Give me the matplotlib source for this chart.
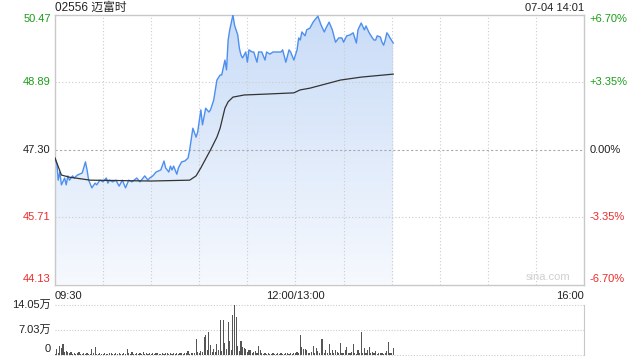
import matplotlib
matplotlib.use("Agg")
import matplotlib.pyplot as plt
import numpy as np
from matplotlib.colors import LinearSegmentedColormap

plt.rcParams['font.family'] = ['Liberation Sans', 'Noto Sans CJK SC', 'DejaVu Sans']

title = "02556 迈富时"
stamp = "07-04 14:01"
prev_close = 47.30
y_ticks = [44.13, 45.71, 47.30, 48.89, 50.47]
pct_labels = ["-6.70%", "-3.35%", "0.00%", "+3.35%", "+6.70%"]
x_labels = ["09:30", "12:00/13:00", "16:00"]
x_label_pos = [0, 150, 330]
vol_ticks = [0, 7.03, 14.05]
vol_labels = ["0", "7.03万", "14.05万"]

# minutes from open (lunch break removed)
price_t = [0, 1.25, 2, 3, 4, 6, 7, 8, 9, 11, 12, 14, 17, 19, 20, 21, 23, 25, 26, 28,
           30, 32, 33, 34, 36, 38, 40, 42, 44, 46, 48, 51, 53, 56, 58, 59, 61, 63, 66, 68,
           69, 71, 72, 73, 74, 76, 77, 79, 81, 83, 84, 86, 88, 89, 91, 92, 94, 96, 97, 99,
           101, 103, 104, 106, 107, 108, 109, 111, 112, 114, 115, 116, 117, 119, 120, 121, 123, 124, 126, 127,
           129, 131, 132, 134, 136, 138, 141, 142, 144, 146, 147, 149, 151, 152, 153, 154, 156, 157, 159, 161,
           162, 164, 166, 168, 169, 171, 173, 175, 177, 179, 180, 182, 184, 186, 188, 189, 191, 193, 194, 196,
           198, 199, 200, 201, 203, 204, 205, 206, 207, 208, 209, 211]
price = [47.10, 46.94, 46.58, 46.77, 46.47, 46.63, 46.47, 46.68, 46.58, 46.68, 46.63, 46.70, 46.75, 47.01, 46.82, 46.58, 46.40, 46.51, 46.47, 46.58,
         46.54, 46.63, 46.51, 46.58, 46.54, 46.58, 46.44, 46.58, 46.40, 46.58, 46.54, 46.63, 46.54, 46.68, 46.58, 46.63, 46.68, 46.77, 46.82, 47.03,
         46.87, 46.77, 46.91, 46.82, 46.91, 46.72, 46.87, 47.01, 47.03, 47.10, 47.29, 47.80, 47.59, 47.71, 48.23, 47.88, 48.27, 48.18, 48.23, 48.46,
         48.93, 49.05, 49.05, 49.40, 49.17, 49.87, 50.11, 50.46, 50.22, 49.99, 49.68, 49.52, 49.45, 49.59, 49.35, 49.64, 49.59, 49.59, 49.35, 49.59,
         49.59, 49.40, 49.59, 49.54, 49.59, 49.59, 49.59, 49.64, 49.35, 49.64, 49.59, 49.40, 49.64, 49.92, 49.87, 50.06, 49.97, 50.11, 50.15, 50.29,
         50.34, 50.43, 50.22, 50.06, 50.15, 50.29, 50.11, 49.82, 49.92, 49.92, 49.82, 49.97, 49.99, 50.04, 49.80, 50.11, 50.27, 50.11, 50.20, 50.04,
         49.92, 49.87, 49.87, 49.97, 49.94, 49.82, 49.75, 49.87, 50.04, 49.99, 49.92, 49.80]

avg_t = [0, 4, 9, 22, 60, 84, 88, 91, 94, 97, 101, 103, 106, 108, 111, 118, 131, 149, 153, 159, 166, 178, 191, 211]
avg = [47.10, 46.70, 46.65, 46.58, 46.56, 46.58, 46.68, 46.87, 47.08, 47.29, 47.59, 47.80, 48.27, 48.42, 48.53,
       48.58, 48.60, 48.63, 48.70, 48.74, 48.81, 48.93, 49.00, 49.07]

volume = [0.3, 1.5, 0.6, 2.5, 2.0, 3.0, 0.7, 1.1, 0.9, 0.5,
          0.8, 0.3, 0.4, 0.2, 0.5, 0.8, 0.3, 0.2, 0.4, 0.3,
          0.5, 0.2, 0.3, 1.6, 0.4, 2.3, 0.3, 0.2, 0.4, 0.3,
          0.2, 0.5, 0.3, 0.2, 0.4, 0.6, 0.3, 0.2, 0.5, 0.3,
          0.4, 0.2, 0.3, 0.5, 0.3, 1.6, 0.4, 0.3, 0.8, 0.2,
          0.3, 0.5, 0.2, 0.4, 0.3, 0.8, 0.3, 0.5, 0.2, 0.4,
          0.3, 0.6, 0.2, 0.4, 0.5, 0.3, 0.2, 0.4, 0.3, 0.6,
          0.4, 0.3, 0.5, 0.2, 0.4, 0.3, 0.5, 0.2, 0.4, 0.6,
          0.3, 0.5, 0.4, 1.0, 0.3, 0.5, 0.4, 0.6, 4.4, 0.8,
          0.6, 1.0, 0.7, 5.1, 5.6, 1.3, 6.4, 2.7, 0.8, 1.5,
          0.9, 3.0, 1.2, 9.8, 1.0, 9.8, 3.2, 1.5, 9.2, 3.8,
          1.2, 11.2, 14.05, 10.7, 2.5, 1.0, 3.8, 2.2, 2.0, 1.5,
          0.8, 1.3, 1.3, 0.6, 0.9, 1.1, 0.5, 2.5, 1.3, 0.4,
          0.3, 0.5, 0.2, 0.4, 0.3, 0.2, 0.5, 0.3, 0.2, 0.4,
          0.3, 0.5, 0.2, 0.3, 0.6, 0.4, 0.3, 0.5, 0.2, 0.6,
          0.4, 0.8, 0.6, 5.6, 2.3, 1.5, 1.5, 1.2, 0.5, 0.6,
          0.8, 2.5, 0.5, 2.0, 1.0, 0.6, 4.5, 4.5, 0.5, 1.2,
          0.4, 2.9, 0.6, 1.3, 0.5, 1.3, 0.8, 0.4, 3.4, 0.5,
          0.4, 1.3, 2.3, 0.5, 0.4, 0.9, 3.0, 0.5, 0.3, 1.3,
          0.4, 6.5, 0.6, 2.0, 0.4, 1.3, 2.3, 0.5, 0.9, 0.4,
          1.0, 0.3, 0.5, 0.4, 0.6, 0.3, 0.4, 1.0, 3.5, 0.5,
          0.4, 2.0]

W, H = 640, 360
fig = plt.figure(figsize=(6.4, 3.6), dpi=100)
ax = fig.add_axes([55 / W, (H - 284.5) / H, 529 / W, 270 / H])
axv = fig.add_axes([55 / W, (H - 354.7) / H, 529 / W, 49.7 / H])

green = "#1a9e1a"
red = "#ee2a2a"
grid_c = "#cccccc"
spine_c = "#c8c8c8"

ax.set_xlim(0, 330)
ax.set_ylim(y_ticks[0], y_ticks[-1])

# gradient fill under price
poly = ax.fill_between(price_t, price, y_ticks[0], color="none", lw=0)
cmap = LinearSegmentedColormap.from_list("g", ["#f6f9fe", "#c9dcf7"])
grad = np.linspace(0, 1, 256).reshape(-1, 1)
im = ax.imshow(grad, cmap=cmap, aspect="auto", origin="lower",
               extent=[0, price_t[-1], y_ticks[0], y_ticks[-1]], zorder=1)
path = poly.get_paths()[0]
im.set_clip_path(path, transform=ax.transData)

ax.plot(price_t, price, color="#4d8ff0", lw=1.0, zorder=3)
ax.plot(avg_t, avg, color="#333333", lw=0.9, zorder=3)

# grid
for xv in np.arange(30, 330, 30):
    ax.axvline(xv, color=grid_c, lw=0.8, ls=(0, (1, 2)), zorder=2)
for yv in y_ticks[1:-1]:
    if yv == prev_close:
        ax.axhline(yv, color="#aaaaaa", lw=0.8, ls=(0, (2, 2)), zorder=2)
    else:
        ax.axhline(yv, color=grid_c, lw=0.8, ls=(0, (1, 2)), zorder=2)

for s in ax.spines.values():
    s.set_color(spine_c)
    s.set_linewidth(1.0)

ax.set_xticks([])
ax.set_yticks([])

tick_colors = [red, red, "#222222", green, green]
trans_l = ax.get_yaxis_transform()
for i, (yv, c) in enumerate(zip(y_ticks, tick_colors)):
    va = "center"
    if i == 0:
        va = "bottom"
    if i == len(y_ticks) - 1:
        va = "top"
    ax.text(-0.008, yv, f"{yv:.2f}", transform=trans_l, ha="right", va=va,
            color=c, fontsize=8)
    ax.text(1.011, yv, pct_labels[i], transform=trans_l, ha="left", va=va,
            color=c, fontsize=8)

ax.text(0.0, 1.012, title, transform=ax.transAxes, ha="left", va="baseline",
        fontsize=8.5, color="#222222")
ax.text(1.0, 1.012, stamp, transform=ax.transAxes, ha="right", va="baseline",
        fontsize=8, color="#222222")
ax.text(0.975, 0.008, "sina.com", transform=ax.transAxes, ha="right", va="bottom",
        fontsize=8, color="#cfcfcf")

has = ["left", "center", "right"]
for lab, xp, ha in zip(x_labels, x_label_pos, has):
    ax.text(xp, -0.025, lab, transform=ax.get_xaxis_transform(), ha=ha, va="top",
            fontsize=8, color="#222222")

# volume
t_vol = np.arange(len(volume))
axv.bar(t_vol, volume, width=0.7, color="#555555", zorder=3)
axv.set_xlim(0, 330)
axv.set_ylim(0, vol_ticks[-1])
axv.set_xticks([])
axv.set_yticks([])
for s in ["left", "top", "bottom"]:
    axv.spines[s].set_visible(False)
axv.spines["right"].set_color(spine_c)
for yv in vol_ticks:
    axv.axhline(yv, color=grid_c, lw=0.8, ls=(0, (1, 1.5)), zorder=2, clip_on=False)
for yv, lab in zip(vol_ticks, vol_labels):
    off = 0.12 * vol_ticks[-1] if yv == 0 else 0
    axv.text(-0.008, yv + off, lab, transform=axv.get_yaxis_transform(), ha="right",
             va="center", fontsize=8, color="#222222")

fig.savefig("out.png", dpi=100)
